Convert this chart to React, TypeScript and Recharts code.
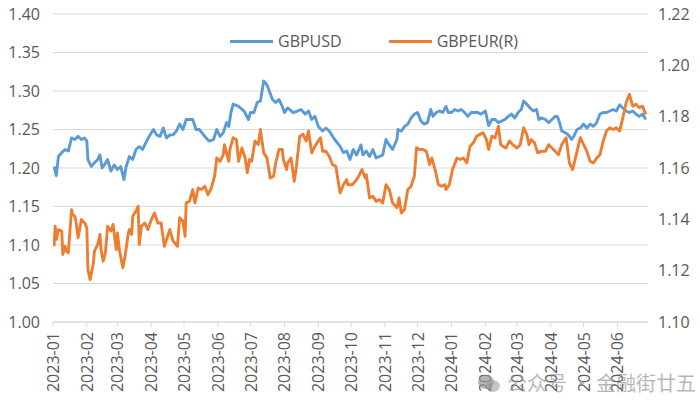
import { LineChart, Line, XAxis, YAxis, CartesianGrid } from "recharts";

// month ticks on the date axis
const monthLabels = [
  "2023-01", "2023-02", "2023-03", "2023-04", "2023-05", "2023-06",
  "2023-07", "2023-08", "2023-09", "2023-10", "2023-11", "2023-12",
  "2024-01", "2024-02", "2024-03", "2024-04", "2024-05", "2024-06",
];

const usdDates = [
  "2023-01-02", "2023-01-04", "2023-01-06", "2023-01-09", "2023-01-12", "2023-01-15", "2023-01-18", "2023-01-21",
  "2023-01-24", "2023-01-27", "2023-01-30", "2023-02-01", "2023-02-02", "2023-02-05", "2023-02-08", "2023-02-11",
  "2023-02-13", "2023-02-15", "2023-02-17", "2023-02-20", "2023-02-23", "2023-02-26", "2023-03-01", "2023-03-04",
  "2023-03-07", "2023-03-09", "2023-03-12", "2023-03-15", "2023-03-18", "2023-03-21", "2023-03-24", "2023-03-27",
  "2023-03-30", "2023-04-03", "2023-04-06", "2023-04-09", "2023-04-12", "2023-04-15", "2023-04-18", "2023-04-21",
  "2023-04-24", "2023-04-27", "2023-04-30", "2023-05-03", "2023-05-06", "2023-05-09", "2023-05-12", "2023-05-15",
  "2023-05-20", "2023-05-24", "2023-05-28", "2023-05-31", "2023-06-03", "2023-06-06", "2023-06-09", "2023-06-11",
  "2023-06-13", "2023-06-15", "2023-06-20", "2023-06-25", "2023-06-29", "2023-07-01", "2023-07-04", "2023-07-07",
  "2023-07-10", "2023-07-13", "2023-07-16", "2023-07-21", "2023-07-24", "2023-07-27", "2023-07-30", "2023-08-01",
  "2023-08-04", "2023-08-09", "2023-08-13", "2023-08-16", "2023-08-20", "2023-08-23", "2023-08-26", "2023-08-29",
  "2023-09-01", "2023-09-05", "2023-09-08", "2023-09-11", "2023-09-16", "2023-09-21", "2023-09-24", "2023-09-27",
  "2023-09-30", "2023-10-03", "2023-10-06", "2023-10-09", "2023-10-10", "2023-10-12", "2023-10-15", "2023-10-18",
  "2023-10-21", "2023-10-24", "2023-10-27", "2023-10-30", "2023-11-02", "2023-11-05", "2023-11-08", "2023-11-12",
  "2023-11-13", "2023-11-16", "2023-11-19", "2023-11-22", "2023-11-25", "2023-11-28", "2023-12-01", "2023-12-04",
  "2023-12-07", "2023-12-10", "2023-12-13", "2023-12-15", "2023-12-18", "2023-12-21", "2023-12-24", "2023-12-27",
  "2023-12-29", "2024-01-01", "2024-01-04", "2024-01-07", "2024-01-10", "2024-01-13", "2024-01-16", "2024-01-19",
  "2024-01-22", "2024-01-25", "2024-01-28", "2024-02-01", "2024-02-04", "2024-02-07", "2024-02-10", "2024-02-13",
  "2024-02-16", "2024-02-19", "2024-02-22", "2024-02-25", "2024-02-28", "2024-03-02", "2024-03-05", "2024-03-07",
  "2024-03-10", "2024-03-13", "2024-03-16", "2024-03-19", "2024-03-21", "2024-03-23", "2024-03-27", "2024-03-30",
  "2024-04-02", "2024-04-05", "2024-04-07", "2024-04-09", "2024-04-11", "2024-04-14", "2024-04-17", "2024-04-20",
  "2024-04-22", "2024-04-25", "2024-04-28", "2024-05-01", "2024-05-04", "2024-05-07", "2024-05-10", "2024-05-13",
  "2024-05-16", "2024-05-19", "2024-05-22", "2024-05-25", "2024-05-28", "2024-05-31", "2024-06-03", "2024-06-06",
  "2024-06-09", "2024-06-12", "2024-06-15", "2024-06-18", "2024-06-21", "2024-06-24", "2024-06-27",
];

const usdValues = [
  1.202, 1.190, 1.215, 1.220, 1.224, 1.222, 1.239, 1.237,
  1.241, 1.237, 1.239, 1.235, 1.211, 1.202, 1.207, 1.211,
  1.217, 1.200, 1.204, 1.211, 1.196, 1.204, 1.198, 1.202,
  1.185, 1.202, 1.215, 1.211, 1.224, 1.228, 1.224, 1.233,
  1.241, 1.250, 1.243, 1.241, 1.252, 1.239, 1.243, 1.243,
  1.248, 1.257, 1.250, 1.263, 1.263, 1.263, 1.250, 1.250,
  1.241, 1.235, 1.237, 1.250, 1.241, 1.246, 1.259, 1.254,
  1.272, 1.283, 1.280, 1.274, 1.263, 1.272, 1.272, 1.285,
  1.287, 1.313, 1.308, 1.289, 1.285, 1.289, 1.280, 1.272,
  1.278, 1.272, 1.274, 1.276, 1.270, 1.274, 1.263, 1.267,
  1.254, 1.248, 1.252, 1.248, 1.237, 1.228, 1.220, 1.222,
  1.211, 1.224, 1.217, 1.226, 1.230, 1.217, 1.222, 1.215,
  1.224, 1.213, 1.215, 1.217, 1.237, 1.230, 1.224, 1.237,
  1.250, 1.248, 1.254, 1.257, 1.265, 1.270, 1.272, 1.261,
  1.257, 1.259, 1.276, 1.267, 1.272, 1.274, 1.272, 1.280,
  1.272, 1.272, 1.276, 1.274, 1.276, 1.272, 1.267, 1.272,
  1.272, 1.272, 1.270, 1.274, 1.255, 1.263, 1.263, 1.259,
  1.261, 1.263, 1.267, 1.270, 1.265, 1.272, 1.276, 1.287,
  1.283, 1.278, 1.274, 1.276, 1.263, 1.265, 1.263, 1.259,
  1.263, 1.267, 1.267, 1.259, 1.248, 1.246, 1.243, 1.237,
  1.241, 1.250, 1.252, 1.257, 1.252, 1.257, 1.254, 1.259,
  1.270, 1.272, 1.272, 1.274, 1.276, 1.274, 1.282, 1.278,
  1.274, 1.272, 1.274, 1.270, 1.267, 1.270, 1.263,
];

const eurDates = [
  "2023-01-02", "2023-01-03", "2023-01-04", "2023-01-06", "2023-01-09", "2023-01-10", "2023-01-12", "2023-01-13",
  "2023-01-15", "2023-01-18", "2023-01-19", "2023-01-21", "2023-01-22", "2023-01-24", "2023-01-27", "2023-01-30",
  "2023-02-01", "2023-02-02", "2023-02-04", "2023-02-07", "2023-02-08", "2023-02-11", "2023-02-13", "2023-02-14",
  "2023-02-16", "2023-02-18", "2023-02-20", "2023-02-23", "2023-02-25", "2023-02-28", "2023-03-01", "2023-03-03",
  "2023-03-06", "2023-03-08", "2023-03-11", "2023-03-12", "2023-03-14", "2023-03-15", "2023-03-18", "2023-03-20",
  "2023-03-21", "2023-03-23", "2023-03-26", "2023-03-29", "2023-04-01", "2023-04-04", "2023-04-07", "2023-04-10",
  "2023-04-13", "2023-04-16", "2023-04-18", "2023-04-21", "2023-04-25", "2023-04-27", "2023-04-30", "2023-05-02",
  "2023-05-03", "2023-05-06", "2023-05-09", "2023-05-11", "2023-05-14", "2023-05-17", "2023-05-20", "2023-05-23",
  "2023-05-26", "2023-05-29", "2023-05-31", "2023-06-03", "2023-06-06", "2023-06-07", "2023-06-11", "2023-06-12",
  "2023-06-15", "2023-06-18", "2023-06-20", "2023-06-23", "2023-06-26", "2023-06-28", "2023-06-30", "2023-07-02",
  "2023-07-05", "2023-07-08", "2023-07-10", "2023-07-13", "2023-07-16", "2023-07-19", "2023-07-22", "2023-07-24",
  "2023-07-27", "2023-07-30", "2023-07-31", "2023-08-03", "2023-08-04", "2023-08-07", "2023-08-10", "2023-08-12",
  "2023-08-15", "2023-08-18", "2023-08-21", "2023-08-23", "2023-08-26", "2023-08-29", "2023-09-01", "2023-09-03",
  "2023-09-05", "2023-09-08", "2023-09-11", "2023-09-14", "2023-09-17", "2023-09-21", "2023-09-24", "2023-09-27",
  "2023-09-28", "2023-10-02", "2023-10-05", "2023-10-08", "2023-10-11", "2023-10-14", "2023-10-15", "2023-10-18",
  "2023-10-21", "2023-10-24", "2023-10-27", "2023-10-30", "2023-11-02", "2023-11-05", "2023-11-08", "2023-11-12",
  "2023-11-14", "2023-11-16", "2023-11-19", "2023-11-22", "2023-11-25", "2023-11-28", "2023-11-30", "2023-12-03",
  "2023-12-06", "2023-12-09", "2023-12-12", "2023-12-14", "2023-12-17", "2023-12-20", "2023-12-23", "2023-12-26",
  "2023-12-27", "2023-12-30", "2024-01-02", "2024-01-06", "2024-01-09", "2024-01-12", "2024-01-15", "2024-01-18",
  "2024-01-21", "2024-01-24", "2024-01-27", "2024-01-30", "2024-02-02", "2024-02-04", "2024-02-07", "2024-02-10",
  "2024-02-13", "2024-02-15", "2024-02-17", "2024-02-20", "2024-02-23", "2024-02-26", "2024-03-01", "2024-03-04",
  "2024-03-07", "2024-03-10", "2024-03-12", "2024-03-14", "2024-03-17", "2024-03-20", "2024-03-23", "2024-03-27",
  "2024-03-30", "2024-04-02", "2024-04-05", "2024-04-08", "2024-04-11", "2024-04-15", "2024-04-18", "2024-04-21",
  "2024-04-25", "2024-04-28", "2024-05-01", "2024-05-04", "2024-05-07", "2024-05-10", "2024-05-13", "2024-05-16",
  "2024-05-19", "2024-05-22", "2024-05-25", "2024-05-28", "2024-05-31", "2024-06-03", "2024-06-06", "2024-06-09",
  "2024-06-12", "2024-06-15", "2024-06-18", "2024-06-21", "2024-06-24", "2024-06-27",
];

const eurValues = [
  1.1295, 1.1373, 1.1321, 1.1360, 1.1354, 1.1263, 1.1295, 1.1276,
  1.1270, 1.1438, 1.1419, 1.1412, 1.1393, 1.1328, 1.1399, 1.1386,
  1.1367, 1.1204, 1.1165, 1.1230, 1.1276, 1.1302, 1.1341, 1.1282,
  1.1237, 1.1270, 1.1373, 1.1354, 1.1380, 1.1282, 1.1347, 1.1276,
  1.1211, 1.1256, 1.1347, 1.1360, 1.1341, 1.1412, 1.1432, 1.1451,
  1.1302, 1.1373, 1.1386, 1.1360, 1.1399, 1.1425, 1.1386, 1.1386,
  1.1295, 1.1334, 1.1360, 1.1315, 1.1295, 1.1406, 1.1393, 1.1334,
  1.1464, 1.1470, 1.1516, 1.1464, 1.1522, 1.1516, 1.1529, 1.1496,
  1.1522, 1.1568, 1.1639, 1.1626, 1.1652, 1.1691, 1.1626, 1.1672,
  1.1718, 1.1711, 1.1626, 1.1678, 1.1639, 1.1581, 1.1633, 1.1626,
  1.1705, 1.1691, 1.1750, 1.1659, 1.1639, 1.1561, 1.1568, 1.1620,
  1.1672, 1.1672, 1.1633, 1.1594, 1.1620, 1.1639, 1.1548, 1.1607,
  1.1724, 1.1731, 1.1705, 1.1744, 1.1659, 1.1685, 1.1705, 1.1718,
  1.1665, 1.1665, 1.1646, 1.1613, 1.1607, 1.1503, 1.1535, 1.1555,
  1.1535, 1.1535, 1.1548, 1.1568, 1.1594, 1.1561, 1.1574, 1.1483,
  1.1490, 1.1470, 1.1477, 1.1464, 1.1535, 1.1516, 1.1464, 1.1445,
  1.1484, 1.1425, 1.1438, 1.1516, 1.1529, 1.1568, 1.1679, 1.1672,
  1.1672, 1.1665, 1.1613, 1.1639, 1.1594, 1.1535, 1.1529, 1.1535,
  1.1516, 1.1535, 1.1594, 1.1639, 1.1633, 1.1639, 1.1620, 1.1685,
  1.1698, 1.1724, 1.1731, 1.1737, 1.1711, 1.1672, 1.1724, 1.1718,
  1.1763, 1.1691, 1.1685, 1.1678, 1.1705, 1.1691, 1.1678, 1.1691,
  1.1757, 1.1731, 1.1691, 1.1711, 1.1698, 1.1659, 1.1665, 1.1665,
  1.1691, 1.1678, 1.1665, 1.1652, 1.1691, 1.1718, 1.1620, 1.1594,
  1.1665, 1.1718, 1.1691, 1.1665, 1.1626, 1.1620, 1.1639, 1.1652,
  1.1705, 1.1744, 1.1757, 1.1750, 1.1757, 1.1744, 1.1796, 1.1854,
  1.1887, 1.1841, 1.1848, 1.1835, 1.1841, 1.1809,
];

const leftTicks = [1.0, 1.05, 1.1, 1.15, 1.2, 1.25, 1.3, 1.35, 1.4];
const rightTicks = [1.1, 1.12, 1.14, 1.16, 1.18, 1.2, 1.22];

const BLUE = "#5b9bd5";
const ORANGE = "#ed7d31";
const GRID = "#d9d9d9";
const TEXT = "#595959";
const FONT = "'Open Sans', sans-serif";

// days since 2023-01-01, used as the numeric x value
const ORIGIN = Date.UTC(2023, 0, 1);
const dayOf = (s: string) => (Date.parse(s) - ORIGIN) / 86400000;

const monthTicks = monthLabels.map((m) => dayOf(m + "-01"));
const usdData = usdDates.map((d, i) => ({ t: dayOf(d), v: usdValues[i] }));
const eurData = eurDates.map((d, i) => ({ t: dayOf(d), v: eurValues[i] }));

function MonthTick(props: any) {
  const { x, y, payload } = props;
  const idx = monthTicks.indexOf(payload.value);
  return (
    <text
      x={x}
      y={y}
      transform={`rotate(-90 ${x} ${y})`}
      textAnchor="end"
      dominantBaseline="central"
      fill={TEXT}
      fontSize={16}
      fontFamily={FONT}
    >
      {idx >= 0 ? monthLabels[idx] : ""}
    </text>
  );
}

function LegendItem({ color, label }: { color: string; label: string }) {
  return (
    <div style={{ display: "flex", alignItems: "center" }}>
      <span style={{ display: "inline-block", width: 43, height: 3, background: color, marginRight: 5 }} />
      <span>{label}</span>
    </div>
  );
}

export default function App() {
  return (
    <div
      style={{
        position: "absolute",
        left: 0,
        top: 0,
        width: 700,
        height: 409,
        background: "#fff",
        fontFamily: FONT,
      }}
    >
      <LineChart width={700} height={409} margin={{ top: 14, right: 0, bottom: 0, left: 0 }}>
        <CartesianGrid vertical={false} stroke={GRID} yAxisId="left" />
        <XAxis
          dataKey="t"
          type="number"
          domain={[0, 545]}
          ticks={monthTicks}
          interval={0}
          height={87}
          stroke={GRID}
          tickSize={5}
          tickMargin={5}
          tick={<MonthTick />}
          allowDataOverflow
        />
        <YAxis
          yAxisId="left"
          orientation="left"
          domain={[1.0, 1.4]}
          ticks={leftTicks}
          width={53}
          axisLine={false}
          tickLine={false}
          tickSize={0}
          tickMargin={13}
          tickFormatter={(v: number) => v.toFixed(2)}
          tick={{ fill: TEXT, fontSize: 16, fontFamily: FONT }}
        />
        <YAxis
          yAxisId="right"
          orientation="right"
          domain={[1.1, 1.22]}
          ticks={rightTicks}
          width={52}
          axisLine={false}
          tickLine={false}
          tickSize={0}
          tickMargin={10}
          tickFormatter={(v: number) => v.toFixed(2)}
          tick={{ fill: TEXT, fontSize: 16, fontFamily: FONT }}
        />
        <Line
          yAxisId="left"
          data={usdData}
          dataKey="v"
          name="GBPUSD"
          type="linear"
          stroke={BLUE}
          strokeWidth={2.9}
          strokeLinejoin="round"
          dot={false}
          isAnimationActive={false}
        />
        <Line
          yAxisId="right"
          data={eurData}
          dataKey="v"
          name="GBPEUR(R)"
          type="linear"
          stroke={ORANGE}
          strokeWidth={2.9}
          strokeLinejoin="round"
          dot={false}
          isAnimationActive={false}
        />
      </LineChart>

      {/* legend */}
      <div
        style={{
          position: "absolute",
          left: 230,
          top: 30,
          display: "flex",
          gap: 47,
          fontSize: 16,
          color: TEXT,
          lineHeight: "22px",
        }}
      >
        <LegendItem color={BLUE} label="GBPUSD" />
        <LegendItem color={ORANGE} label="GBPEUR(R)" />
      </div>

      {/* watermark */}
      <div
        style={{
          position: "absolute",
          left: 477,
          top: 368,
          display: "flex",
          alignItems: "center",
          color: "rgba(150,150,150,0.7)",
          fontSize: 20,
          fontFamily: "'Noto Sans CJK SC', sans-serif",
          whiteSpace: "nowrap",
        }}
      >
        <svg width={24} height={20} style={{ marginRight: 6 }}>
          <ellipse cx={9} cy={9} rx={8} ry={7} fill="rgba(150,150,150,0.7)" />
          <ellipse cx={16} cy={13} rx={7} ry={6} fill="rgba(150,150,150,0.55)" />
        </svg>
        <span>公众号 · 金融街廿五</span>
      </div>
    </div>
  );
}
